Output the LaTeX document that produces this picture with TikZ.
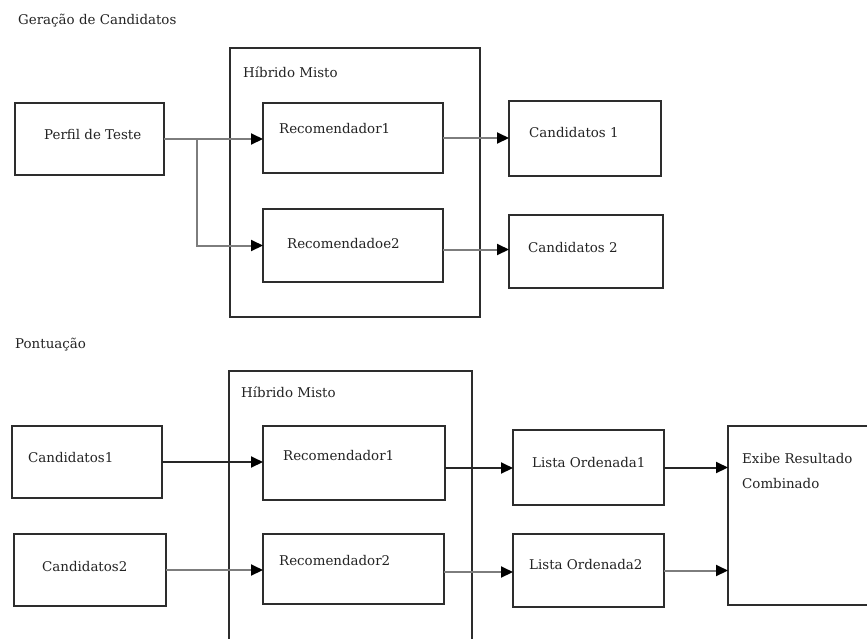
\documentclass[tikz,border=0pt]{standalone}
\usepackage{fontspec}
\setmainfont{DejaVu Serif}
\usetikzlibrary{arrows.meta}
\definecolor{boxc}{RGB}{45,45,45}
\definecolor{txtc}{RGB}{35,35,35}
\definecolor{lgray}{RGB}{125,125,125}
\newfontfamily\labelfont{DejaVu Serif}
\tikzset{
  box/.style={draw=boxc, line width=2.3pt, inner sep=0pt, outer sep=0pt, anchor=north west},
  txt/.style={anchor=base west, inner sep=0pt, text=txtc, font=\labelfont\fontsize{13.4}{15}\selectfont},
  link/.style={line width=2pt, -{Triangle[length=12pt,width=11pt,color=black]}},
  darklink/.style={link, draw=black!85},
  greylink/.style={link, draw=lgray},
}
\begin{document}
\begin{tikzpicture}[x=1pt,y=-1pt]
\useasboundingbox (0,0) rectangle (867,638);
\clip (0,0) rectangle (867,638);
\fill[white] (0,0) rectangle (867,638);

% ---------- Geração de Candidatos ----------
\node[txt] (t1) at (18,24) {Geração de Candidatos};
\node[box, minimum width=250, minimum height=269] (hib1) at (230,48) {};
\node[txt] (h1) at (243,77) {Híbrido Misto};

\node[box, minimum width=149, minimum height=72] (perfil) at (15,103) {};
\node[txt] (perfilt) at (44,139) {Perfil de Teste};

\node[box, minimum width=180, minimum height=70] (reca) at (263,103) {};
\node[txt] (recat) at (279,133) {Recomendador1};
\node[box, minimum width=180, minimum height=73] (recb) at (263,209) {};
\node[txt] (recbt) at (287,248) {Recomendadoe2};

\node[box, minimum width=152, minimum height=75] (cand1) at (509,101) {};
\node[txt] (cand1t) at (529,137) {Candidatos 1};
\node[box, minimum width=154, minimum height=73] (cand2) at (509,215) {};
\node[txt] (cand2t) at (528,252) {Candidatos 2};

\coordinate (split) at (197,139);
\draw[greylink] (perfil.east) -- (perfil.east -| reca.west);
\draw[greylink] (split) |- (recb.west);
\draw[greylink] (reca.east) -- (reca.east -| cand1.west);
\draw[greylink] ([yshift=-4pt]recb.east) -- ([yshift=-4pt]recb.east -| cand2.west);

% ---------- Pontuação ----------
\node[txt] (t2) at (15,348) {Pontuação};
\node[box, minimum width=243, minimum height=300] (hib2) at (229,371) {};
\node[txt] (h2) at (241,397) {Híbrido Misto};

\node[box, minimum width=150, minimum height=72] (c1) at (12,426) {};
\node[txt] (c1t) at (28,462) {Candidatos1};
\node[box, minimum width=152, minimum height=72] (c2) at (14,534) {};
\node[txt] (c2t) at (42,571) {Candidatos2};

\node[box, minimum width=182, minimum height=74] (r1) at (263,426) {};
\node[txt] (r1t) at (283,460) {Recomendador1};
\node[box, minimum width=181, minimum height=70] (r2) at (263,534) {};
\node[txt] (r2t) at (279,565) {Recomendador2};

\node[box, minimum width=151, minimum height=75] (l1) at (513,430) {};
\node[txt] (l1t) at (532,467) {Lista Ordenada1};
\node[box, minimum width=151, minimum height=73] (l2) at (513,534) {};
\node[txt] (l2t) at (529,569) {Lista Ordenada2};

\node[box, minimum width=160, minimum height=179] (exibe) at (728,426) {};
\node[txt] (e1) at (742,463) {Exibe Resultado};
\node[txt] (e2) at (742,488) {Combinado};

\draw[darklink] (c1.east) -- (c1.east -| r1.west);
\draw[greylink] (c2.east) -- (c2.east -| r2.west);
\draw[darklink] ([yshift=-5pt]r1.east) -- ([yshift=-5pt]r1.east -| l1.west);
\draw[greylink] ([yshift=-3pt]r2.east) -- ([yshift=-3pt]r2.east -| l2.west);
\draw[darklink] (l1.east) -- (l1.east -| exibe.west);
\draw[greylink] (l2.east) -- (l2.east -| exibe.west);
\end{tikzpicture}
\end{document}
